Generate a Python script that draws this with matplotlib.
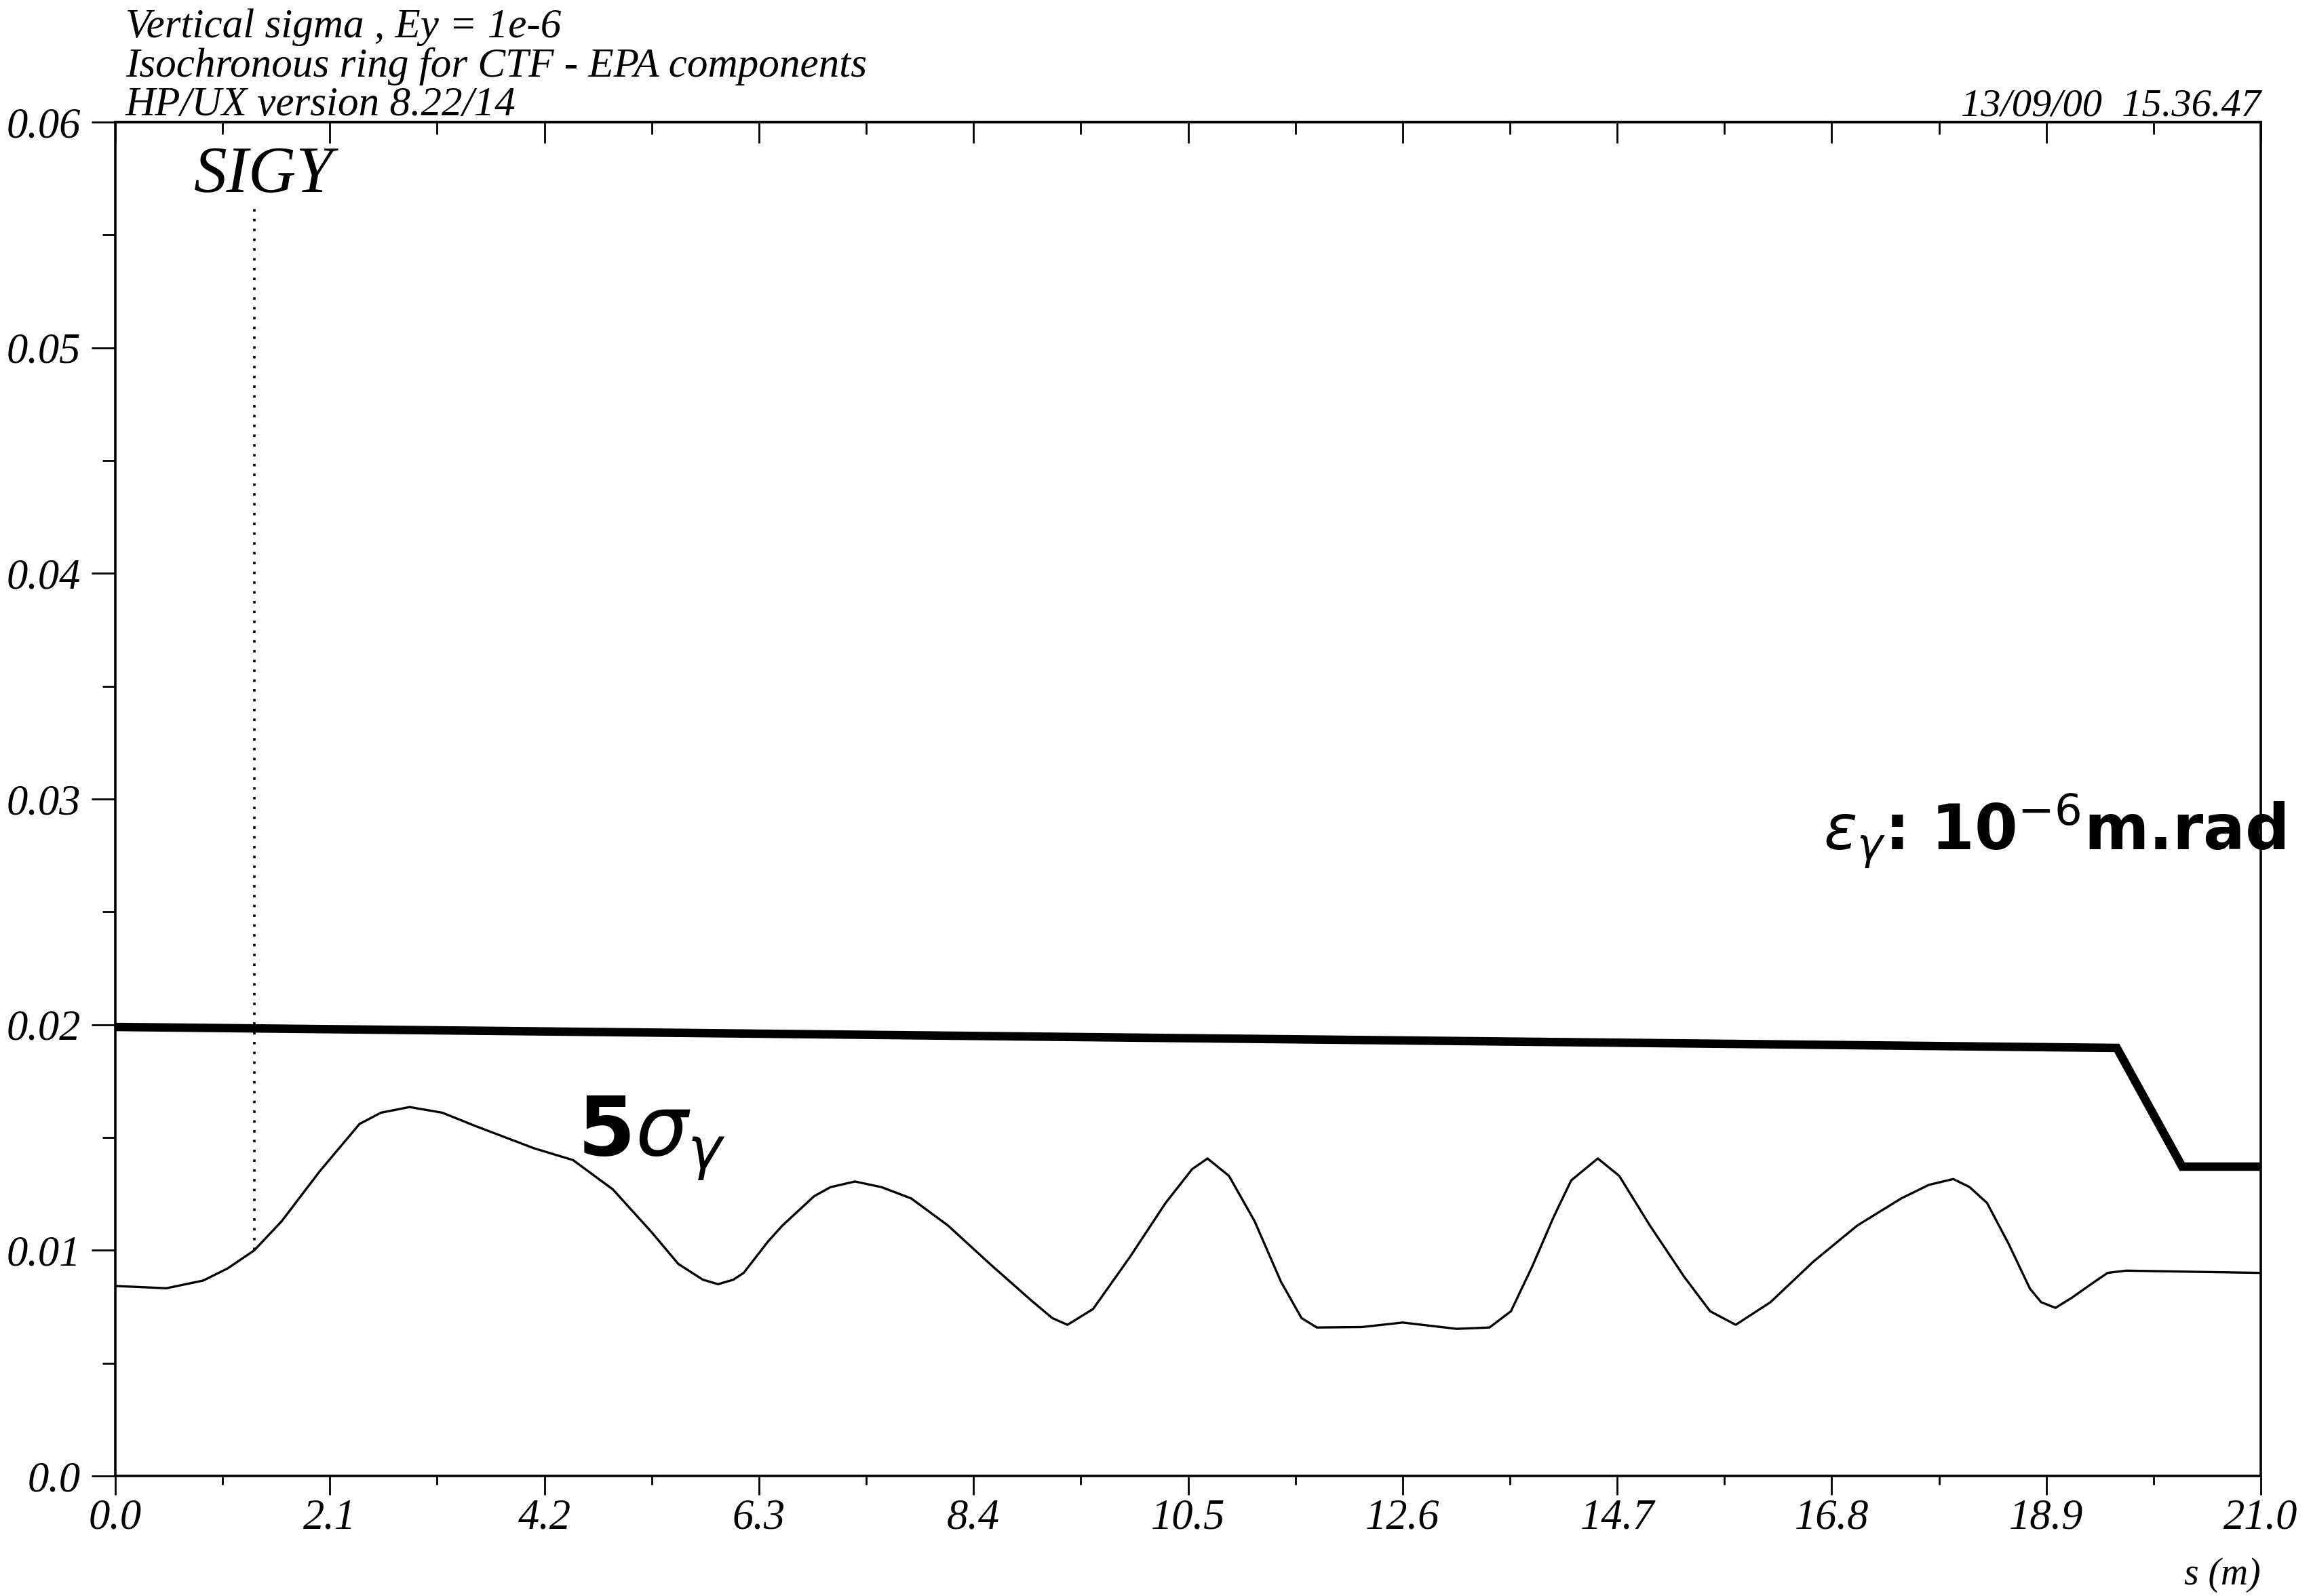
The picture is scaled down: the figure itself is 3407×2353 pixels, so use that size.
import matplotlib
matplotlib.use("Agg")
import matplotlib.pyplot as plt

# ---- data ----
# thick line (5 sigma envelope)
env_s = [0.0, 19.59, 20.23, 21.0]
env_v = [0.0199, 0.01897, 0.01371, 0.01371]

# SIGY curve
sig_s = [0.0, 0.5, 0.86, 1.1, 1.36, 1.63, 2.0, 2.39, 2.6, 2.88, 3.2, 3.53,
         4.1, 4.48, 4.87, 5.25, 5.51, 5.75, 5.9, 6.05, 6.15, 6.39, 6.53,
         6.84, 7.0, 7.24, 7.5, 7.79, 8.15, 8.56, 8.96, 9.17, 9.32, 9.57,
         9.93, 10.28, 10.54, 10.69, 10.9, 11.15, 11.41, 11.61, 11.76, 12.2,
         12.6, 13.13, 13.45, 13.66, 13.87, 14.08, 14.25, 14.51, 14.72, 15.02,
         15.36, 15.61, 15.86, 16.2, 16.62, 17.05, 17.48, 17.75, 17.99, 18.15,
         18.32, 18.53, 18.74, 18.85, 18.99, 19.15, 19.37, 19.5, 19.68, 21.0]
sig_v = [0.00842, 0.00832, 0.00866, 0.0092, 0.0100, 0.0113, 0.0135, 0.0156,
         0.0161, 0.01635, 0.0161, 0.0155, 0.01452, 0.0140, 0.0127, 0.0108,
         0.0094, 0.0087, 0.0085, 0.0087, 0.0090, 0.0104, 0.0111, 0.0124,
         0.0128, 0.01305, 0.0128, 0.0123, 0.0111, 0.0094, 0.0078, 0.0070,
         0.0067, 0.0074, 0.0097, 0.0121, 0.0136, 0.01407, 0.0133, 0.0113,
         0.0086, 0.0070, 0.00658, 0.0066, 0.0068, 0.00652, 0.00658, 0.0073,
         0.0093, 0.0115, 0.0131, 0.01407, 0.0133, 0.0111, 0.0088, 0.0073,
         0.0067, 0.0077, 0.0095, 0.0111, 0.0123, 0.0129, 0.01316, 0.0128,
         0.0121, 0.0103, 0.0083, 0.0077, 0.00745, 0.0079, 0.0086, 0.0090,
         0.0091, 0.0090]

# dotted marker
marker_s = 1.36
marker_v = [0.0100, 0.0562]

x_ticks = [0.0, 2.1, 4.2, 6.3, 8.4, 10.5, 12.6, 14.7, 16.8, 18.9, 21.0]
x_labels = ["0.0", "2.1", "4.2", "6.3", "8.4", "10.5", "12.6", "14.7",
            "16.8", "18.9", "21.0"]
x_minor = [1.05, 3.15, 5.25, 7.35, 9.45, 11.55, 13.65, 15.75, 17.85, 19.95]
y_ticks = [0.0, 0.01, 0.02, 0.03, 0.04, 0.05, 0.06]
y_labels = ["0.0", "0.01", "0.02", "0.03", "0.04", "0.05", "0.06"]
y_minor = [0.005, 0.015, 0.025, 0.035, 0.045, 0.055]

title_lines = ["Vertical sigma , Ey = 1e-6",
               "Isochronous ring for CTF - EPA components",
               "HP/UX version 8.22/14"]
stamp = "13/09/00  15.36.47"

SERIF = "Liberation Serif"

fig = plt.figure(figsize=(34.07, 23.53), dpi=100)
ax = fig.add_axes([0.0499, 0.0752, 0.9284, 0.8483])

ax.plot(sig_s, sig_v, color="black", linewidth=2.4)
ax.plot(env_s, env_v, color="black", linewidth=9, solid_joinstyle="miter")
ax.plot([marker_s, marker_s], marker_v, color="black", linewidth=2.6,
        linestyle=(0, (1.0, 3.0)))

ax.set_xlim(0, 21.0)
ax.set_ylim(0, 0.06)
ax.set_xticks(x_ticks)
ax.set_xticklabels(x_labels)
ax.set_xticks(x_minor, minor=True)
ax.set_yticks(y_ticks)
ax.set_yticklabels(y_labels)
ax.set_yticks(y_minor, minor=True)

for sp in ax.spines.values():
    sp.set_linewidth(2.6)

ax.tick_params(axis="x", which="major", direction="out", length=20,
               width=2, pad=4)
ax.tick_params(axis="x", which="minor", direction="out", length=9, width=2)
ax.tick_params(axis="y", which="major", direction="out", length=25,
               width=2, pad=12)
ax.tick_params(axis="y", which="minor", direction="out", length=14, width=2)
for lab in ax.get_xticklabels() + ax.get_yticklabels():
    lab.set_fontfamily(SERIF)
    lab.set_fontstyle("italic")
    lab.set_fontsize(45)

# inward ticks on the top frame
top = ax.secondary_xaxis("top")
top.set_xticks(x_ticks)
top.set_xticklabels([])
top.set_xticks(x_minor, minor=True)
top.tick_params(which="major", direction="in", length=22, width=2)
top.tick_params(which="minor", direction="in", length=13, width=2)
top.spines["top"].set_linewidth(2.6)

# curve name
ax.text(0.77, 0.0569, "SIGY", fontsize=70, fontfamily=SERIF,
        fontstyle="italic", va="baseline", ha="left")

# hand-written notes
ax.text(4.52, 0.0142, r"5$\sigma_\gamma$", fontsize=88, fontweight="bold",
        va="baseline", ha="left")
ax.text(16.72, 0.0278, r"$\varepsilon_\gamma$: 10$^{-6}$m.rad", fontsize=66,
        fontweight="bold", va="baseline", ha="left", clip_on=False)

# header
for i, line in enumerate(title_lines):
    fig.text(0.0543, 0.9766 - i * 0.0245, line, fontsize=44,
             fontfamily=SERIF, fontstyle="italic", va="baseline", ha="left")
fig.text(0.9783, 0.9275, stamp, fontsize=42, fontfamily=SERIF,
         fontstyle="italic", va="baseline", ha="right")
fig.text(0.9783, 0.0132, "s (m)", fontsize=40, fontfamily=SERIF,
         fontstyle="italic", va="center", ha="right")

fig.savefig("out.png", dpi=100, facecolor="white")
